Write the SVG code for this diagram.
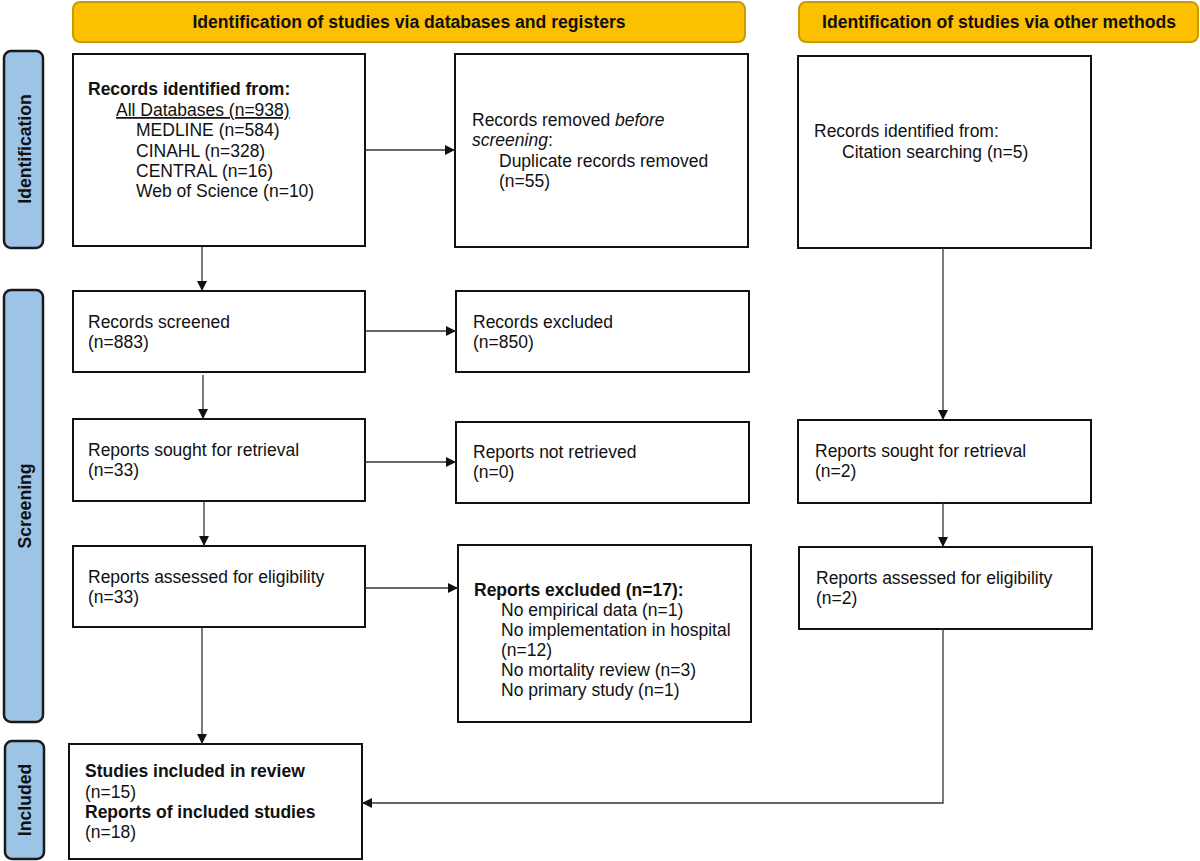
<svg xmlns="http://www.w3.org/2000/svg" width="1200" height="861" viewBox="0 0 1200 861">
<style>
text{font-family:"Liberation Sans",Arial,sans-serif;font-size:17.5px;fill:#111}
.b{font-weight:bold}
.hdr{fill:#fcc000;stroke:#c99a08;stroke-width:2}
.htxt{font-weight:bold;font-size:17.6px;text-anchor:middle}
.side{fill:#9dc3e6;stroke:#1a1a1a;stroke-width:2.5}
.stxt{font-weight:bold;font-size:17.6px;text-anchor:middle}
.box{fill:#fff;stroke:#111;stroke-width:2}
.con{fill:none;stroke:#333;stroke-width:1.3}
</style>
<defs>
<marker id="ah" markerWidth="10" markerHeight="10" refX="10" refY="5" orient="auto" markerUnits="userSpaceOnUse">
<path d="M0,0 L10,5 L0,10 Z" fill="#111"/>
</marker>
</defs>
<rect width="1200" height="861" fill="#fff"/>
<g id="header-db"><rect class="hdr" x="73" y="2" width="672" height="40" rx="7"/><text class="htxt" x="409" y="28">Identification of studies via databases and registers</text></g>
<g id="header-other"><rect class="hdr" x="799" y="2" width="399" height="40" rx="7"/><text class="htxt" x="999" y="28">Identification of studies via other methods</text></g>
<g id="side-identification"><rect class="side" x="4" y="51" width="39" height="197" rx="7"/><text class="stxt" transform="translate(31,149) rotate(-90)">Identification</text></g>
<g id="side-screening"><rect class="side" x="4" y="290" width="39" height="432" rx="7"/><text class="stxt" transform="translate(31,506) rotate(-90)">Screening</text></g>
<g id="side-included"><rect class="side" x="5" y="741" width="39" height="118" rx="7"/><text class="stxt" transform="translate(31,800) rotate(-90)">Included</text></g>
<g id="n-identified"><rect class="box" x="73" y="54" width="292" height="192"/>
<text class="b" x="88" y="95">Records identified from:</text>
<text x="116" y="116" text-decoration="underline">All Databases (n=938)</text>
<text x="136" y="136">MEDLINE (n=584)</text>
<text x="136" y="157">CINAHL (n=328)</text>
<text x="136" y="177">CENTRAL (n=16)</text>
<text x="136" y="197">Web of Science (n=10)</text></g>
<g id="n-removed"><rect class="box" x="455" y="54" width="293" height="193"/>
<text x="472" y="126">Records removed <tspan font-style="italic">before</tspan></text>
<text x="472" y="146"><tspan font-style="italic">screening</tspan>:</text>
<text x="499" y="167">Duplicate records removed</text>
<text x="499" y="187">(n=55)</text></g>
<g id="n-other-identified"><rect class="box" x="798" y="56" width="293" height="192"/>
<text x="814" y="137">Records identified from:</text>
<text x="842" y="158">Citation searching (n=5)</text></g>
<g id="n-screened"><rect class="box" x="73" y="291" width="292" height="81"/>
<text x="88" y="328">Records screened</text><text x="88" y="348">(n=883)</text></g>
<g id="n-excluded"><rect class="box" x="456" y="291" width="293" height="81"/>
<text x="473" y="328">Records excluded</text><text x="473" y="348">(n=850)</text></g>
<g id="n-sought"><rect class="box" x="73" y="419" width="292" height="82"/>
<text x="88" y="456">Reports sought for retrieval</text><text x="88" y="476">(n=33)</text></g>
<g id="n-notretrieved"><rect class="box" x="456" y="422" width="293" height="81"/>
<text x="473" y="458">Reports not retrieved</text><text x="473" y="478">(n=0)</text></g>
<g id="n-other-sought"><rect class="box" x="798" y="420" width="293" height="83"/>
<text x="815" y="457">Reports sought for retrieval</text><text x="815" y="477">(n=2)</text></g>
<g id="n-assessed"><rect class="box" x="73" y="546" width="292" height="81"/>
<text x="88" y="583">Reports assessed for eligibility</text><text x="88" y="603">(n=33)</text></g>
<g id="n-reports-excluded"><rect class="box" x="458" y="545" width="293" height="177"/>
<text class="b" x="474" y="596">Reports excluded (n=17):</text>
<text x="501" y="616">No empirical data (n=1)</text>
<text x="501" y="636">No implementation in hospital</text>
<text x="501" y="656">(n=12)</text>
<text x="501" y="676">No mortality review (n=3)</text>
<text x="501" y="696">No primary study (n=1)</text></g>
<g id="n-other-assessed"><rect class="box" x="799" y="547" width="293" height="82"/>
<text x="816" y="584">Reports assessed for eligibility</text><text x="816" y="604">(n=2)</text></g>
<g id="n-included"><rect class="box" x="69" y="744" width="293" height="115"/>
<text class="b" x="85" y="777">Studies included in review</text>
<text x="85" y="798">(n=15)</text>
<text class="b" x="85" y="818">Reports of included studies</text>
<text x="85" y="838">(n=18)</text></g>
<g id="connectors">
<line class="con" x1="365" y1="150" x2="455" y2="150" marker-end="url(#ah)"/>
<line class="con" x1="365" y1="331" x2="456" y2="331" marker-end="url(#ah)"/>
<line class="con" x1="365" y1="462" x2="456" y2="462" marker-end="url(#ah)"/>
<line class="con" x1="365" y1="588" x2="458" y2="588" marker-end="url(#ah)"/>
<line class="con" x1="202" y1="247" x2="202" y2="291" marker-end="url(#ah)"/>
<line class="con" x1="203" y1="375" x2="203" y2="419" marker-end="url(#ah)"/>
<line class="con" x1="204" y1="501" x2="204" y2="546" marker-end="url(#ah)"/>
<line class="con" x1="202" y1="627" x2="202" y2="744" marker-end="url(#ah)"/>
<line class="con" x1="943" y1="248" x2="943" y2="420" marker-end="url(#ah)"/>
<line class="con" x1="943" y1="503" x2="943" y2="547" marker-end="url(#ah)"/>
<polyline class="con" points="943,629 943,803 362,803" marker-end="url(#ah)"/>
</g>
</svg>
